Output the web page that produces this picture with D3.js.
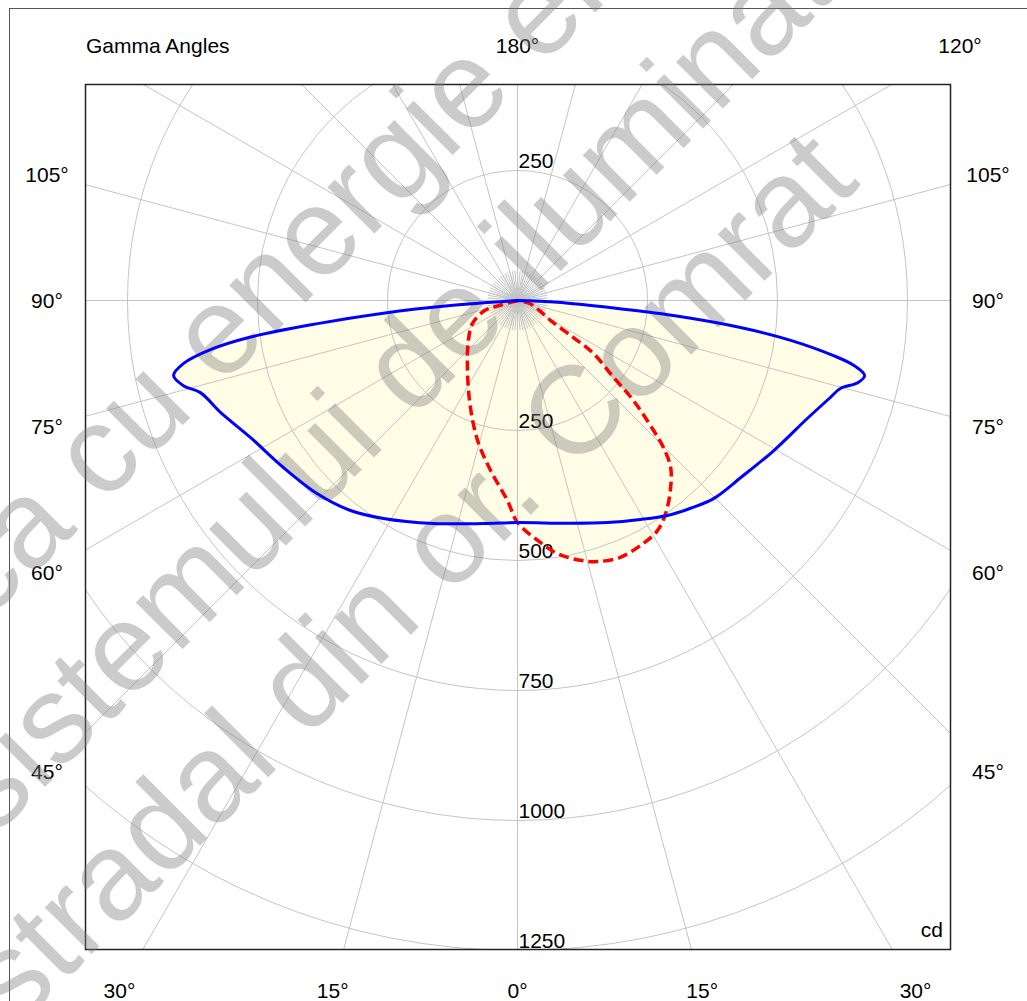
<!DOCTYPE html>
<html><head><meta charset="utf-8">
<script src="https://cdn.jsdelivr.net/npm/d3@7"></script>
<style>
body{margin:0;background:#fff}
svg{display:block}
text{font-family:"Liberation Sans",Arial,Helvetica,sans-serif}
</style>
</head><body>
<svg id="chart" width="1027" height="1001"></svg>
<script>
// ---------- data (gamma in degrees: negative = left half-plane, 0 = nadir) ----------
const gammaC0C180 = [-90,-85.7,-84.6,-83.4,-82.2,-80.9,-79.3,-77.7,-75.7,-73.8,-69.3,-62.8,-54.5,-46,-38.5,-31.6,-20.6,-8.7,0,12.6,22.1,29.3,34.9,39.8,44.7,51.6,59.6,67.9,72.8,74.8,76.4,77.8,79.1,80.1,81.7,83.1,84.5,85.7,87.6,90];
const intensityC0C180 = [0,129,259,387,518,598,654,677,663,635,610,577,553,535,516,492,458,434,427,439,461,483,504,520,536,548,571,602,630,644,673,683,658,617,531,432,301,174,77,0];

const gammaC90C270 = [-90,-74.5,-73,-63,-50.8,-34.4,-23.7,-15.9,-9,-2.9,0,4.8,9,13.6,17,21.8,27.4,31.3,34.8,38.8,42.5,44.8,46.3,49.2,51.3,55.1,56.5,58.5,65.5,76,90];
const intensityC90C270 = [0,36,66,97,122,170,225,280,331,385,427,463,493,514,525,532,526,518,499,469,436,398,362,295,237,178,129,78,46,24,0];

const ringValues = [250,500,750,1000,1250,1500];
const ringLabelsBelow = [250,500,750,1000,1250];
const ringLabelsAbove = [250];
const spokeAngles = d3.range(0,360,15);
const fineSpokeAngles = d3.range(0,360,5);
const angleLabels = [-105,-90,-75,-60,-45,-30,-15,0,15,30,45,60,75,90,105,120,180];
const titleText = "Gamma Angles";
const unitText = "cd";
const watermarkLines = [
  {text:"Asigurarea electrica cu energie electrica a", key:"cu ", px:102, py:460, h:0.26},
  {text:"sistemului de iluminat", key:"de", px:405, py:363, h:0.36},
  {text:"stradal din or. Comrat", key:"Comrat", px:572, py:410, h:0.36}
];

// ---------- layout ----------
const svg = d3.select("#chart");
const cx = 517.5, cy = 300.5;
const frame = {x0:85.5, y0:84.5, x1:950.5, y1:949.5};
const r = d3.scaleLinear().domain([0,1250]).range([0,650]);
const fontSize = 21;

svg.append("rect").attr("width",1027).attr("height",1001).attr("fill","#fff");
svg.append("rect").attr("x",9.5).attr("y",8.5).attr("width",1200).attr("height",1200)
  .attr("fill","none").attr("stroke","#555").attr("stroke-width",1);

svg.append("defs").append("clipPath").attr("id","plotclip")
  .append("rect").attr("x",frame.x0).attr("y",frame.y0)
  .attr("width",frame.x1-frame.x0).attr("height",frame.y1-frame.y0);

const plot = svg.append("g").attr("clip-path","url(#plotclip)");
plot.append("rect").attr("x",frame.x0).attr("y",frame.y0)
  .attr("width",frame.x1-frame.x0).attr("height",frame.y1-frame.y0).attr("fill","#fff");

const toAngle = g => Math.PI - g*Math.PI/180;
const radial = d3.lineRadial().angle(d=>toAngle(d[0])).radius(d=>r(d[1]))
  .curve(d3.curveCatmullRom.alpha(0.5));
const blueData = gammaC0C180.map((g,i)=>[g,intensityC0C180[i]]);
const redData = gammaC90C270.map((g,i)=>[g,intensityC90C270[i]]);
const fills = plot.append("g").attr("transform",`translate(${cx},${cy})`);
fills.append("path").attr("d",radial(blueData)+"Z").attr("fill","#fffde6");
fills.append("path").attr("d",radial(redData)+"Z").attr("fill","#fffde6");

const grid = plot.append("g").attr("transform",`translate(${cx},${cy})`)
  .attr("fill","none").attr("stroke","#c4c4c4").attr("stroke-width",1);
grid.selectAll("circle").data(ringValues).join("circle").attr("r",d=>r(d));
grid.selectAll("line.sp").data(spokeAngles).join("line").attr("class","sp")
  .attr("x1",0).attr("y1",0)
  .attr("x2",d=>Math.sin(d*Math.PI/180)*1200)
  .attr("y2",d=>Math.cos(d*Math.PI/180)*1200);
grid.selectAll("line.fs").data(fineSpokeAngles).join("line").attr("class","fs")
  .attr("x1",0).attr("y1",0)
  .attr("x2",d=>Math.sin(d*Math.PI/180)*30)
  .attr("y2",d=>Math.cos(d*Math.PI/180)*30);

const rl = svg.append("g").attr("font-size",fontSize).attr("fill","#000");
rl.selectAll("text.b").data(ringLabelsBelow).join("text").attr("class","b")
  .attr("x",cx+1).attr("y",d=>cy+r(d)-3).text(d=>d);
rl.selectAll("text.a").data(ringLabelsAbove).join("text").attr("class","a")
  .attr("x",cx+1).attr("y",d=>cy-r(d)-3).text(d=>d);

svg.append("rect").attr("x",frame.x0).attr("y",frame.y0)
  .attr("width",frame.x1-frame.x0).attr("height",frame.y1-frame.y0)
  .attr("fill","none").attr("stroke","#222").attr("stroke-width",1.5);

const box = {L:470.5, R:470.5, T:255.5, B:689.5};
function labelPos(g){
  const a = g*Math.PI/180, dx = Math.sin(a), dy = Math.cos(a);
  let t = Infinity;
  if (dx > 1e-9) t = Math.min(t, box.R/dx);
  if (dx < -1e-9) t = Math.min(t, box.L/-dx);
  if (dy > 1e-9) t = Math.min(t, box.B/dy);
  if (dy < -1e-9) t = Math.min(t, box.T/-dy);
  return [cx+dx*t, cy+dy*t];
}
const al = svg.append("g").attr("font-size",fontSize).attr("fill","#000").attr("text-anchor","middle");
al.selectAll("text").data(angleLabels).join("text")
  .attr("x",d=>labelPos(d)[0]).attr("y",d=>labelPos(d)[1]+7.5)
  .text(d=>Math.abs(d)+"°");

svg.append("text").attr("x",86).attr("y",53).attr("font-size",fontSize).text(titleText);
svg.append("text").attr("x",943).attr("y",937).attr("font-size",fontSize)
  .attr("text-anchor","end").text(unitText);

// watermark
const wmSize = 125, wmAngle = -45;
const wm = svg.append("g").attr("fill","#808080").attr("opacity",0.4)
  .attr("font-size",wmSize);
function measure(s){
  if (!s.length) return 0;
  const t = wm.append("text").style("white-space","pre").text(s);
  const w = t.node().getComputedTextLength(); t.remove(); return w;
}
watermarkLines.forEach(l=>{
  const k = l.text.indexOf(l.key);
  const pre = measure(l.text.slice(0,k));
  const cw = measure(l.text.charAt(k));
  wm.append("text").attr("transform",`translate(${l.px},${l.py}) rotate(${wmAngle})`)
    .attr("x",-(pre+cw/2)).attr("y",l.h*wmSize).style("white-space","pre").text(l.text);
});

// curve strokes (clip on outer group, translate on inner group)
const strokes = svg.append("g").attr("clip-path","url(#plotclip)")
  .append("g").attr("transform",`translate(${cx},${cy})`);
strokes.append("path").attr("d",radial(redData)).attr("fill","none")
  .attr("stroke","#ff0000").attr("stroke-width",3.5).attr("stroke-dasharray","10,5");
strokes.append("path").attr("d",radial(blueData)).attr("fill","none")
  .attr("stroke","#0000ff").attr("stroke-width",3);
</script>
</body></html>
